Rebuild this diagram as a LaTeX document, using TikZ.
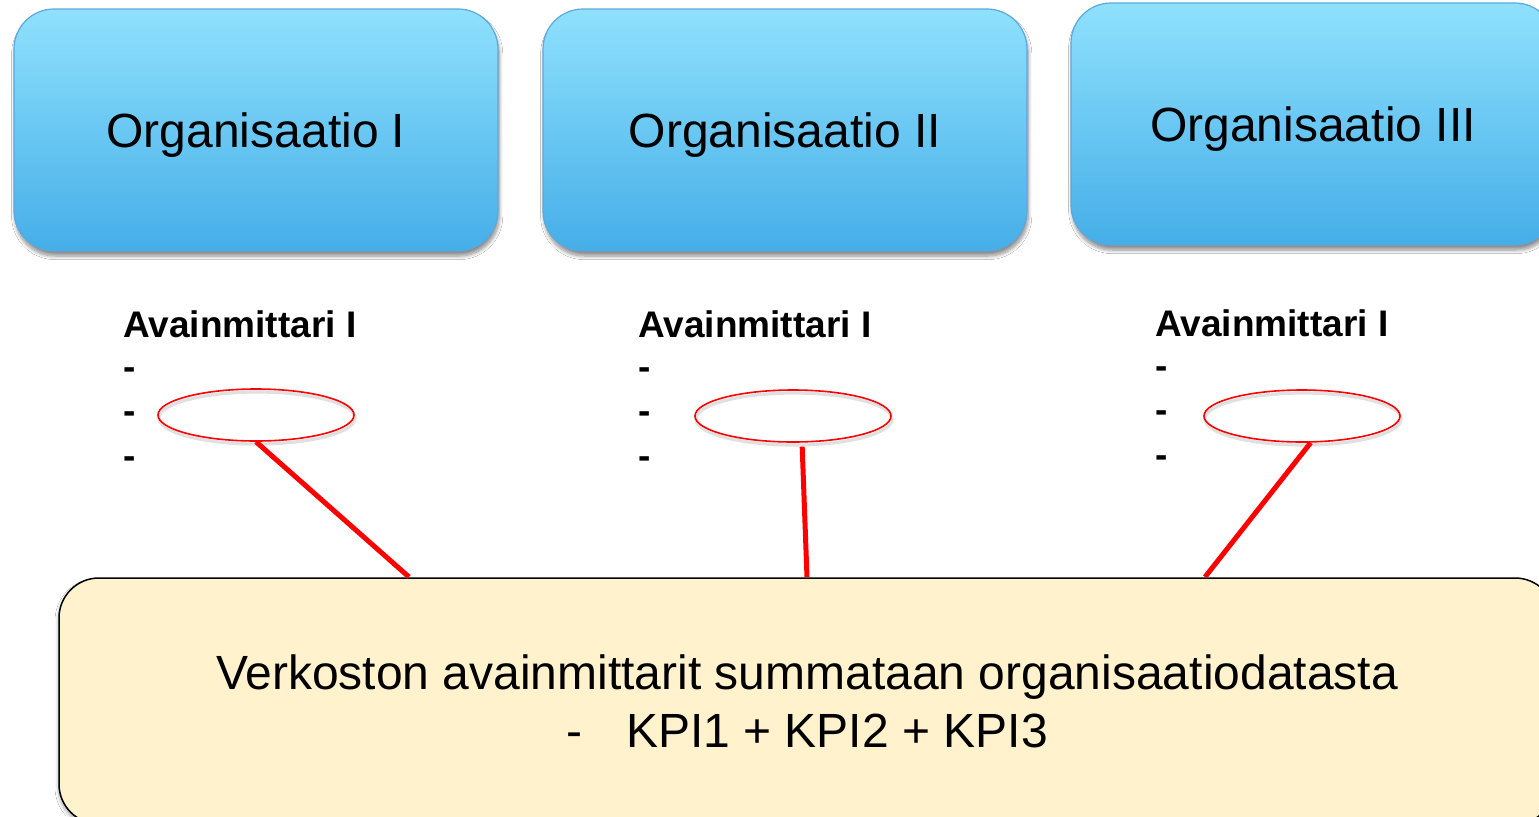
\documentclass[tikz,border=0pt]{standalone}
\usepackage{fontspec}
\setmainfont{Liberation Sans}
\usetikzlibrary{shapes.geometric,shadows.blur}

\definecolor{orgtop}{RGB}{143,225,253}
\definecolor{orgbottom}{RGB}{69,174,232}
\definecolor{orgedge}{RGB}{92,168,222}
\definecolor{sumfill}{RGB}{255,242,204}
\definecolor{linkred}{RGB}{255,0,0}

\newcommand{\orglabel}[1]{\raisebox{-2.5pt}[\height][\depth]{#1}}

\tikzset{
  orgbox/.style={rounded corners=20pt, minimum width=242pt, minimum height=121pt,
    top color=orgtop, bottom color=orgbottom, draw=orgedge, line width=0.6pt,
    font=\fontsize{24}{29}\selectfont,
    blur shadow={shadow xshift=0.6pt, shadow yshift=-2.5pt, shadow blur radius=1.8pt, shadow blur steps=8, shadow opacity=45}},
  kpihead/.style={anchor=base west, inner sep=0pt, font=\fontsize{18.5}{22}\selectfont\bfseries},
  kpidash/.style={anchor=base west, inner sep=0pt, font=\fontsize{18.5}{22}\selectfont\bfseries},
  marker/.style={ellipse, draw=linkred, line width=0.8pt, minimum width=98pt, minimum height=26pt, inner sep=0pt},
  markershade/.style={ellipse, draw=black, draw opacity=0.12, line width=1.6pt, minimum width=98pt, minimum height=26pt, inner sep=0pt},
  link/.style={draw=linkred, line width=2.5pt},
  sumbox/.style={rounded corners=20pt, minimum width=748pt, minimum height=123pt,
    fill=sumfill, draw=black, line width=0.75pt, align=center,
    font=\fontsize{24}{29}\selectfont,
    blur shadow={shadow xshift=-0.5pt, shadow yshift=-1.5pt, shadow blur radius=1.5pt, shadow opacity=30}}
}

\begin{document}
\begin{tikzpicture}[x=0.5pt, y=-0.5pt]
  \useasboundingbox (0,0) rectangle (1539,816);
  \fill[white] (0,0) rectangle (1539,816);

  % organisation boxes
  \node[orgbox] (org1) at (256,130) {\orglabel{Organisaatio I}};
  \node[orgbox] (org2) at (785,130) {\orglabel{Organisaatio II}};
  \node[orgbox] (org3) at (1313,124) {\orglabel{Organisaatio III}};

  % key indicator lists
  \node[kpihead] (h1) at (123,337) {Avainmittari I};
  \node[kpihead] (h2) at (638,337) {Avainmittari I};
  \node[kpihead] (h3) at (1155,336) {Avainmittari I};
  \foreach \n/\x/\y in {1/123/379, 2/638/379, 3/1155/378}{
    \node[kpidash] (d\n a) at (\x,\y) {-};
    \node[kpidash] (d\n b) at (\x,\y+44) {-};
    \node[kpidash] (d\n c) at (\x,\y+89) {-};
  }

  % highlighted indicator rings
  \node[markershade] at (257,418) {};
  \node[markershade] at (794,419) {};
  \node[markershade] at (1303,419) {};
  \node[marker] (e1) at (256,415) {};
  \node[marker] (e2) at (793,416) {};
  \node[marker] (e3) at (1302,416) {};

  % network summary box
  \node[sumbox] (sum) at (807,701)
    {Verkoston avainmittarit summataan organisaatiodatasta\\-\hspace{22pt}KPI1 + KPI2 + KPI3};

  % links from rings to the summary
  \coordinate (t1) at (409,577);
  \coordinate (t2) at (807,577);
  \coordinate (t3) at (1205,577);
  \draw[link] (e1.south) -- (t1);
  \draw[link] ([yshift=-2pt]e2.-71) -- (t2);
  \draw[link] (e3.-72) -- (t3);
\end{tikzpicture}
\end{document}
